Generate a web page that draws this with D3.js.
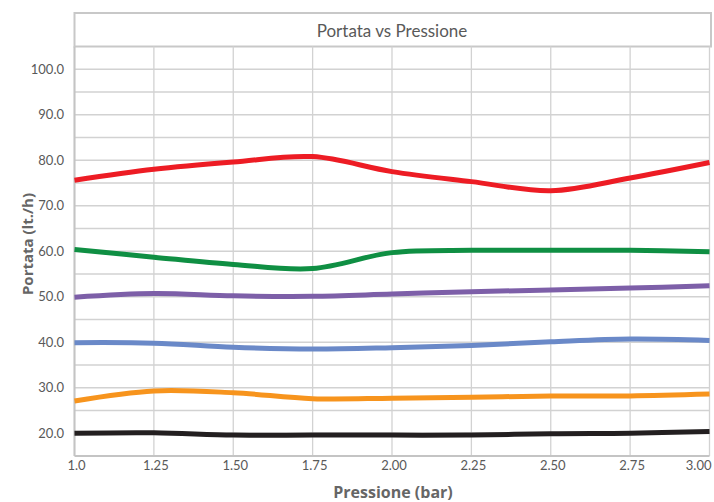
<!DOCTYPE html>
<html>
<head>
<meta charset="utf-8">
<script src="https://cdn.jsdelivr.net/npm/d3@7"></script>
<style>
  body { margin: 0; background: #fff; }
  text { font-family: Lato, "Open Sans", sans-serif; }
</style>
</head>
<body>
<script>
// pressure values (bar) and their printed labels
var pressures = [1.0, 1.25, 1.5, 1.75, 2.0, 2.25, 2.5, 2.75, 3.0];
var xTickLabels = ["1.0", "1.25", "1.50", "1.75", "2.00", "2.25", "2.50", "2.75", "3.00"];
var yTicks = [20, 30, 40, 50, 60, 70, 80, 90, 100];

// flow series (lt./h)
var redSeries    = [75.6, 78.0, 79.6, 80.8, 77.5, 75.3, 73.3, 76.1, 79.5];
var greenSeries  = [60.4, 58.7, 57.1, 56.2, 59.7, 60.2, 60.2, 60.2, 59.9];
var purpleSeries = [49.9, 50.7, 50.2, 50.1, 50.6, 51.1, 51.5, 51.9, 52.4];
var blueSeries   = [39.9, 39.8, 38.9, 38.5, 38.8, 39.3, 40.1, 40.7, 40.4];
var orangeSeries = [27.1, 29.3, 28.9, 27.6, 27.7, 27.9, 28.2, 28.2, 28.6];
var blackSeries  = [20.0, 20.1, 19.6, 19.6, 19.6, 19.6, 19.9, 20.0, 20.4];

var seriesList = [
    {values: blackSeries,  color: "#231f20"},
    {values: orangeSeries, color: "#f7941d"},
    {values: blueSeries,   color: "#6a89c8"},
    {values: purpleSeries, color: "#7d5fa8"},
    {values: greenSeries,  color: "#0f8f43"},
    {values: redSeries,    color: "#ed1c24"}
];

var width = 714, height = 502;
var plotLeft = 74.5, plotRight = 709.5, plotTop = 46.5, plotBottom = 456;

var svg = d3.select("body").append("svg")
    .attr("width", width)
    .attr("height", height);

var x = d3.scaleLinear().domain([1, 3]).range([plotLeft, plotRight]);
var y = d3.scaleLinear().domain([15, 105]).range([plotBottom, plotTop]);

// title band
svg.append("rect")
    .attr("x", plotLeft).attr("y", 13)
    .attr("width", plotRight - plotLeft + 1.5).attr("height", plotTop - 13)
    .attr("fill", "none").attr("stroke", "#c8c8c8").attr("stroke-width", 2);
svg.append("text")
    .attr("x", (plotLeft + plotRight) / 2).attr("y", 37)
    .attr("text-anchor", "middle")
    .attr("font-size", 17)
    .attr("fill", "#595959")
    .text("Portata vs Pressione");

// grid lines every 5 units, verticals at every pressure
var grid = svg.append("g").attr("stroke", "#d2d2d2").attr("stroke-width", 1.3);
d3.range(20, 105, 5).forEach(function(v) {
    grid.append("line").attr("x1", plotLeft).attr("x2", plotRight)
        .attr("y1", y(v)).attr("y2", y(v));
});
pressures.forEach(function(p) {
    grid.append("line").attr("x1", x(p)).attr("x2", x(p))
        .attr("y1", plotTop).attr("y2", plotBottom);
});

// axis lines
svg.append("line").attr("x1", plotLeft).attr("x2", plotLeft).attr("y1", plotTop).attr("y2", plotBottom)
    .attr("stroke", "#c4c4c4").attr("stroke-width", 2);
svg.append("line").attr("x1", plotLeft).attr("x2", plotRight).attr("y1", plotBottom).attr("y2", plotBottom)
    .attr("stroke", "#c4c4c4").attr("stroke-width", 2);

// y tick labels
svg.append("g").selectAll("text").data(yTicks).join("text")
    .attr("x", 64).attr("y", function(d) { return y(d); })
    .attr("dy", "0.35em")
    .attr("text-anchor", "end")
    .attr("font-size", 13)
    .attr("fill", "#595959")
    .text(function(d) { return d.toFixed(1); });

// x tick labels (last one pulled in so it fits)
svg.append("g").selectAll("text").data(pressures).join("text")
    .attr("x", function(d) { return x(d) + 2; })
    .attr("y", 470)
    .attr("text-anchor", function(d, i) { return i == pressures.length - 1 ? "end" : "middle"; })
    .attr("font-size", 13)
    .attr("fill", "#595959")
    .text(function(d, i) { return xTickLabels[i]; });

// axis titles
svg.append("text")
    .attr("x", 393).attr("y", 498)
    .attr("text-anchor", "middle")
    .style("font-family", "'Open Sans', sans-serif")
    .attr("font-size", 16).attr("font-weight", "bold")
    .attr("fill", "#666")
    .text("Pressione (bar)");
svg.append("text")
    .attr("transform", "translate(33,244) rotate(-90)")
    .attr("text-anchor", "middle")
    .style("font-family", "'Open Sans', sans-serif")
    .attr("font-size", 15).attr("font-weight", "bold")
    .attr("fill", "#666")
    .text("Portata (lt./h)");

// smooth lines
var line = d3.line()
    .x(function(d, i) { return x(pressures[i]); })
    .y(function(d) { return y(d); })
    .curve(d3.curveCatmullRom.alpha(0.5));

svg.append("g").selectAll("path").data(seriesList).join("path")
    .attr("d", function(s) { return line(s.values); })
    .attr("fill", "none")
    .attr("stroke", function(s) { return s.color; })
    .attr("stroke-width", 5)
    .attr("stroke-linecap", "butt");
</script>
</body>
</html>
